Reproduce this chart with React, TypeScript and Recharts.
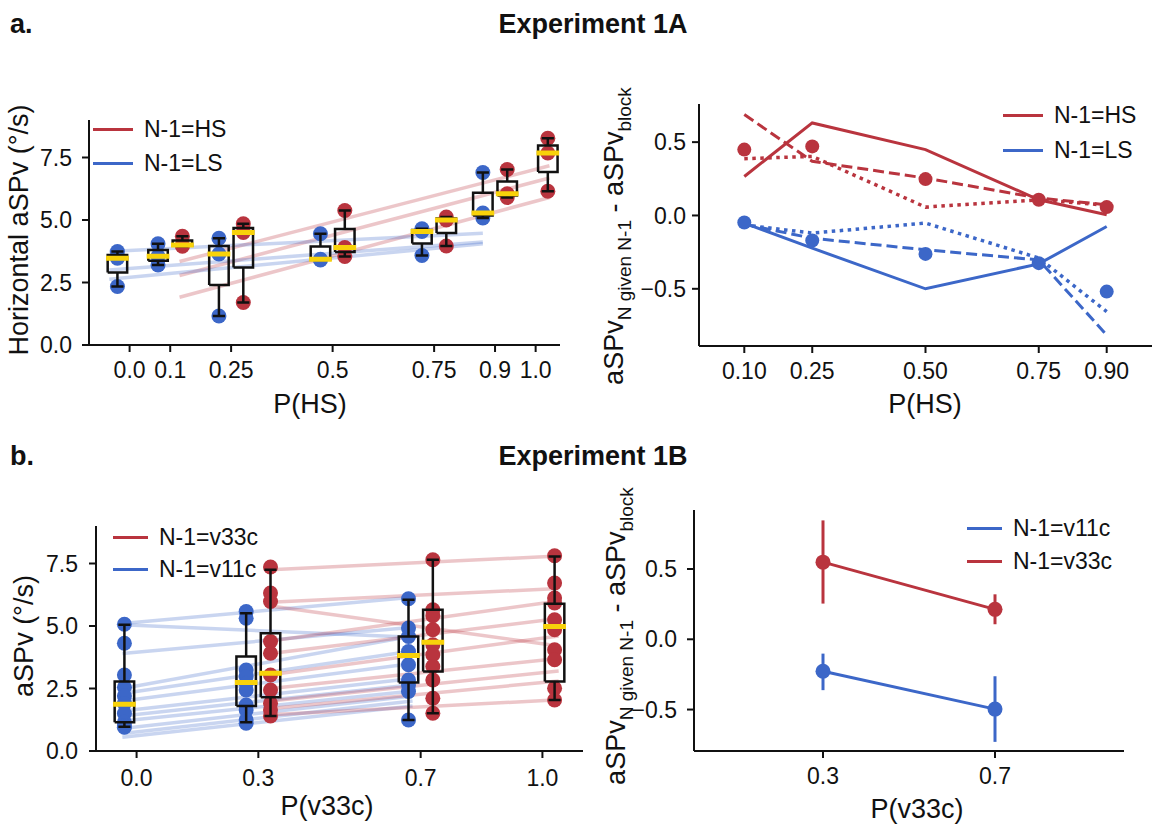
import React from "react";
import { ComposedChart, Line, Scatter, XAxis, YAxis, ErrorBar } from "recharts";

const RED = "#b9343e";
const BLUE = "#3c67c8";
const GOLD = "#f8d20a";
const INK = "#111";
const FONT = "'Liberation Sans', Arial, Helvetica, sans-serif";
const TICK_FONT = 23;
const TITLE_FONT = 27;
const SUB_FONT = 19;

// ---- Experiment 1A, left: aSPv per block, split by previous trial ----
const P_HS_TICKS = [0, 0.1, 0.25, 0.5, 0.75, 0.9, 1.0];
const P_HS_LABELS = ["0.0", "0.1", "0.25", "0.5", "0.75", "0.9", "1.0"];
const ASPV_TICKS = [0, 2.5, 5, 7.5];

const A_LS_BOXES = [
  { p: 0.0, lo: 2.34, q1: 2.9, med: 3.47, q3: 3.6, hi: 3.74 },
  { p: 0.1, lo: 3.2, q1: 3.37, med: 3.55, q3: 3.8, hi: 4.05 },
  { p: 0.25, lo: 1.16, q1: 2.4, med: 3.64, q3: 3.96, hi: 4.27 },
  { p: 0.5, lo: 3.4, q1: 3.42, med: 3.43, q3: 3.94, hi: 4.45 },
  { p: 0.75, lo: 3.58, q1: 4.06, med: 4.54, q3: 4.6, hi: 4.65 },
  { p: 0.9, lo: 5.08, q1: 5.18, med: 5.28, q3: 6.09, hi: 6.9 },
];
const A_LS_VALUES = [
  [3.74, 3.47, 2.34],
  [4.05, 3.55, 3.2],
  [4.27, 3.64, 1.16],
  [4.45, 3.43, 3.4],
  [4.65, 4.54, 3.58],
  [6.9, 5.28, 5.08],
];
const A_HS_BOXES = [
  { p: 0.1, lo: 3.95, q1: 3.98, med: 4.0, q3: 4.18, hi: 4.35 },
  { p: 0.25, lo: 1.7, q1: 3.1, med: 4.5, q3: 4.68, hi: 4.85 },
  { p: 0.5, lo: 3.54, q1: 3.72, med: 3.9, q3: 4.64, hi: 5.38 },
  { p: 0.75, lo: 3.96, q1: 4.48, med: 5.0, q3: 5.06, hi: 5.12 },
  { p: 0.9, lo: 5.9, q1: 5.98, med: 6.05, q3: 6.54, hi: 7.02 },
  { p: 1.0, lo: 6.15, q1: 6.92, med: 7.68, q3: 7.98, hi: 8.27 },
];
const A_HS_VALUES = [
  [4.35, 4.0, 3.95],
  [4.85, 4.5, 1.7],
  [5.38, 3.9, 3.54],
  [5.12, 5.0, 3.96],
  [7.02, 6.05, 5.9],
  [8.27, 7.68, 6.15],
];
// per-subject fits, [start, end] over the x range
const A_HS_FIT_X = [0.123, 1.034];
const A_HS_FITS = [
  [3.34, 7.17],
  [2.78, 6.68],
  [1.91, 5.9],
];
const A_LS_FIT_X = [-0.05, 0.87];
const A_LS_FITS = [
  [3.74, 4.47],
  [3.0, 4.12],
  [2.63, 4.05],
];

// ---- Experiment 1A, right: sequential effect per block ----
const P_A = [0.1, 0.25, 0.5, 0.75, 0.9];
const P_A_LABELS = ["0.10", "0.25", "0.50", "0.75", "0.90"];
const DIFF_TICKS = [-0.5, 0, 0.5];
const HS_SOLID = [0.266, 0.631, 0.449, 0.107, 0.005];
const HS_DASHED = [0.688, 0.369, 0.255, 0.119, 0.073];
const HS_DOTTED = [0.387, 0.403, 0.057, 0.107, 0.07];
const HS_MEAN = [0.449, 0.471, 0.248, 0.107, 0.057];
const LS_SOLID = [-0.052, -0.223, -0.5, -0.33, -0.075];
const LS_DASHED = [-0.06, -0.155, -0.234, -0.303, -0.815];
const LS_DOTTED = [-0.065, -0.12, -0.052, -0.29, -0.656];
const LS_MEAN = [-0.048, -0.171, -0.262, -0.325, -0.519];

// ---- Experiment 1B, left ----
const P_V33_TICKS = [0, 0.3, 0.7, 1.0];
const P_V33_LABELS = ["0.0", "0.3", "0.7", "1.0"];
const B_V11_BOXES = [
  { p: 0.0, lo: 0.97, q1: 1.15, med: 1.87, q3: 2.78, hi: 5.05 },
  { p: 0.3, lo: 1.15, q1: 1.8, med: 2.74, q3: 3.78, hi: 5.51 },
  { p: 0.7, lo: 1.24, q1: 2.74, med: 3.82, q3: 4.58, hi: 6.05 },
];
const B_V11_VALUES = [
  [5.07, 4.31, 3.04, 2.55, 2.2, 1.9, 1.5, 1.15, 1.0, 0.95],
  [5.58, 5.31, 3.24, 2.98, 2.71, 2.44, 1.84, 1.64, 1.24, 1.11],
  [6.09, 4.92, 4.58, 3.98, 3.45, 2.84, 2.64, 2.38, 1.24],
];
const B_V33_BOXES = [
  { p: 0.3, lo: 1.4, q1: 2.15, med: 3.11, q3: 4.71, hi: 7.25 },
  { p: 0.7, lo: 1.51, q1: 3.18, med: 4.35, q3: 5.65, hi: 7.65 },
  { p: 1.0, lo: 2.04, q1: 2.78, med: 4.98, q3: 5.89, hi: 7.78 },
];
const B_V33_VALUES = [
  [7.36, 6.32, 5.98, 4.38, 3.91, 3.04, 2.44, 1.91, 1.64, 1.4],
  [7.65, 5.65, 5.41, 4.85, 4.25, 3.85, 3.38, 2.84, 2.11, 1.51],
  [7.81, 6.72, 6.12, 5.92, 5.25, 4.85, 4.05, 3.65, 2.51, 2.04],
];
const B_V11_FIT_X = [-0.035, 0.68];
const B_V11_FITS = [
  [5.1, 6.15],
  [5.05, 4.55],
  [3.9, 4.95],
  [2.5, 4.6],
  [2.3, 4.0],
  [2.0, 3.5],
  [1.6, 2.9],
  [1.4, 2.65],
  [1.2, 2.4],
  [0.9, 2.2],
  [0.7, 2.0],
  [0.55, 1.8],
];
const B_V33_FIT_X = [0.33, 1.04];
const B_V33_FITS = [
  [7.25, 7.8],
  [5.95, 6.5],
  [5.8, 4.2],
  [4.4, 6.0],
  [3.9, 5.3],
  [3.05, 4.6],
  [2.5, 3.7],
  [2.0, 3.2],
  [1.7, 2.8],
  [1.45, 2.05],
];

// ---- Experiment 1B, right: mean difference with 95% CI ----
const P_B = [0.3, 0.7];
const P_B_LABELS = ["0.3", "0.7"];
const V33_MEAN = [0.549, 0.213];
const V33_LO = [0.254, 0.107];
const V33_HI = [0.846, 0.32];
const V11_MEAN = [-0.227, -0.497];
const V11_LO = [-0.362, -0.73];
const V11_HI = [-0.102, -0.263];

const BOX_SHIFT = 0.03;
const BOX_HALF = 0.024;
const CAP_HALF = 0.015;
const MED_HALF = 0.028;
const DOT_R = 7.5;

// draw order: subject fits < raw points < box outlines < medians
const Z_FIT = 300;
const Z_POINTS = 350;
const Z_BOX = 420;
const Z_MEDIAN = 430;

type Box = { p: number; lo: number; q1: number; med: number; q3: number; hi: number };
type Pt = { x: number; y: number };

const axisStyle = {
  axisLine: { stroke: INK, strokeWidth: 2 },
  tickLine: { stroke: INK, strokeWidth: 2 },
  tickSize: 7,
  tick: { fill: INK, fontSize: TICK_FONT },
  allowDataOverflow: true,
  interval: 0 as const,
};

const fmt1 = (v: number) => (v < 0 ? "\u2212" : "") + Math.abs(v).toFixed(1);
const pick = (ticks: number[], labels: string[]) => (v: number) => {
  const i = ticks.findIndex((t) => Math.abs(t - v) < 1e-9);
  return i >= 0 ? labels[i] : String(v);
};

const seg = (key: string, data: Pt[], stroke: string, width: number, extra: Record<string, unknown> = {}) => (
  <Line
    key={key}
    data={data}
    dataKey="y"
    type="linear"
    stroke={stroke}
    strokeWidth={width}
    dot={false}
    activeDot={false}
    isAnimationActive={false}
    {...extra}
  />
);

function boxplot(id: string, b: Box, shift: number) {
  const c = b.p + shift;
  const l = c - BOX_HALF;
  const r = c + BOX_HALF;
  const z = { zIndex: Z_BOX };
  return [
    seg(`${id}-wl`, [{ x: c, y: b.lo }, { x: c, y: b.q1 }], INK, 2.5, z),
    seg(`${id}-wh`, [{ x: c, y: b.q3 }, { x: c, y: b.hi }], INK, 2.5, z),
    seg(`${id}-cl`, [{ x: c - CAP_HALF, y: b.lo }, { x: c + CAP_HALF, y: b.lo }], INK, 2.5, z),
    seg(`${id}-ch`, [{ x: c - CAP_HALF, y: b.hi }, { x: c + CAP_HALF, y: b.hi }], INK, 2.5, z),
    seg(
      `${id}-box`,
      [
        { x: l, y: b.q1 },
        { x: r, y: b.q1 },
        { x: r, y: b.q3 },
        { x: l, y: b.q3 },
        { x: l, y: b.q1 },
      ],
      INK,
      2.5,
      z
    ),
    seg(`${id}-med`, [{ x: c - MED_HALF, y: b.med }, { x: c + MED_HALF, y: b.med }], GOLD, 5, { zIndex: Z_MEDIAN }),
  ];
}

const circle = (color: string, r: number) => (p: any) => <circle cx={p.cx} cy={p.cy} r={r} fill={color} />;

function points(id: string, data: Pt[], color: string, r: number, zIndex = Z_POINTS) {
  return (
    <Scatter key={id} data={data} fill={color} shape={circle(color, r)} isAnimationActive={false} zIndex={zIndex} />
  );
}

const fitLines = (id: string, xs: number[], fits: number[][], color: string) =>
  fits.map((f, i) =>
    seg(`${id}-${i}`, [{ x: xs[0], y: f[0] }, { x: xs[1], y: f[1] }], color, 3.5, {
      strokeOpacity: 0.28,
      zIndex: Z_FIT,
    })
  );

const boxPoints = (id: string, boxes: Box[], values: number[][], shift: number, color: string) =>
  points(
    id,
    boxes.flatMap((b, i) => values[i].map((y) => ({ x: b.p + shift, y }))),
    color,
    DOT_R
  );

const series = (xs: number[], ys: number[]) => xs.map((x, i) => ({ x, y: ys[i] }));
const withCI = (xs: number[], m: number[], lo: number[], hi: number[]) =>
  xs.map((x, i) => ({ x, y: m[i], err: [m[i] - lo[i], hi[i] - m[i]] }));

const xTitle = (text: string, x: number, y: number) => () => (
  <text x={x} y={y} textAnchor="middle" fontSize={TITLE_FONT} fill={INK}>
    {text}
  </text>
);
const yTitle = (content: React.ReactNode, x: number, y: number) => () => (
  <text transform={`translate(${x},${y}) rotate(-90)`} textAnchor="middle" fontSize={TITLE_FONT} fill={INK}>
    {content}
  </text>
);
const diffTitle = (
  <>
    aSPv
    <tspan dy={8} fontSize={SUB_FONT}>
      N given N-1
    </tspan>
    <tspan dy={-8}> - aSPv</tspan>
    <tspan dy={8} fontSize={SUB_FONT}>
      block
    </tspan>
  </>
);

type LegendItem = { label: string; color: string };
const A_LEGEND: LegendItem[] = [
  { label: "N-1=HS", color: RED },
  { label: "N-1=LS", color: BLUE },
];
const B_LEFT_LEGEND: LegendItem[] = [
  { label: "N-1=v33c", color: RED },
  { label: "N-1=v11c", color: BLUE },
];
const B_RIGHT_LEGEND: LegendItem[] = [
  { label: "N-1=v11c", color: BLUE },
  { label: "N-1=v33c", color: RED },
];

function LineLegend({ items, left, rows, swatch }: { items: LegendItem[]; left: number; rows: number[]; swatch: number }) {
  return (
    <>
      {items.map((it, i) => (
        <div
          key={it.label}
          style={{
            position: "absolute",
            left,
            top: rows[i] - 14,
            height: 28,
            display: "flex",
            alignItems: "center",
            fontSize: TICK_FONT,
            lineHeight: "28px",
            color: INK,
            whiteSpace: "nowrap",
          }}
        >
          <div style={{ width: swatch, height: 3, background: it.color, marginRight: 11 }} />
          <span>{it.label}</span>
        </div>
      ))}
    </>
  );
}

function Heading({ text, x, baseline, center }: { text: string; x: number; baseline: number; center?: boolean }) {
  return (
    <div
      style={{
        position: "absolute",
        left: x,
        top: baseline - 0.83 * TITLE_FONT,
        transform: center ? "translateX(-50%)" : undefined,
        fontSize: TITLE_FONT,
        fontWeight: 700,
        lineHeight: 1,
        color: INK,
        whiteSpace: "nowrap",
      }}
    >
      {text}
    </div>
  );
}

export default function App() {
  return (
    <div
      style={{
        position: "absolute",
        left: 0,
        top: 0,
        width: 1152,
        height: 826,
        background: "#fff",
        fontFamily: FONT,
        overflow: "hidden",
      }}
    >
      <Heading text="a." x={10} baseline={33} />
      <Heading text="Experiment 1A" x={593} baseline={33} center />
      <Heading text="b." x={10} baseline={465} />
      <Heading text="Experiment 1B" x={593} baseline={465} center />

      {/* 1A left */}
      <div style={{ position: "absolute", left: 0, top: 90 }}>
        <ComposedChart width={590} height={340} margin={{ top: 30, right: 30, bottom: 0, left: 0 }}>
          <XAxis
            type="number"
            dataKey="x"
            domain={[-0.1, 1.06]}
            ticks={P_HS_TICKS}
            tickFormatter={pick(P_HS_TICKS, P_HS_LABELS)}
            height={85}
            tickMargin={10}
            {...axisStyle}
            label={xTitle("P(HS)", 310, 323)}
          />
          <YAxis
            type="number"
            dataKey="y"
            domain={[0, 9]}
            ticks={ASPV_TICKS}
            tickFormatter={fmt1}
            width={89}
            tickMargin={10}
            {...axisStyle}
            label={yTitle("Horizontal aSPv (°/s)", 28, 140)}
          />
          {fitLines("ahs", A_HS_FIT_X, A_HS_FITS, RED)}
          {fitLines("als", A_LS_FIT_X, A_LS_FITS, BLUE)}
          {boxPoints("dls", A_LS_BOXES, A_LS_VALUES, -BOX_SHIFT, BLUE)}
          {boxPoints("dhs", A_HS_BOXES, A_HS_VALUES, BOX_SHIFT, RED)}
          {A_LS_BOXES.map((b, i) => boxplot(`bls${i}`, b, -BOX_SHIFT))}
          {A_HS_BOXES.map((b, i) => boxplot(`bhs${i}`, b, BOX_SHIFT))}
        </ComposedChart>
      </div>
      <LineLegend items={A_LEGEND} left={93} rows={[129, 163]} swatch={40} />

      {/* 1A right */}
      <div style={{ position: "absolute", left: 600, top: 74 }}>
        <ComposedChart width={552} height={352} margin={{ top: 30, right: 0, bottom: 0, left: 0 }}>
          <XAxis
            type="number"
            dataKey="x"
            domain={[0, 1]}
            ticks={P_A}
            tickFormatter={pick(P_A, P_A_LABELS)}
            height={80}
            tickMargin={10}
            {...axisStyle}
            label={xTitle("P(HS)", 325, 339)}
          />
          <YAxis
            type="number"
            dataKey="y"
            domain={[-0.89, 0.76]}
            ticks={DIFF_TICKS}
            tickFormatter={fmt1}
            width={99}
            tickMargin={6}
            {...axisStyle}
            label={yTitle(diffTitle, 23, 162)}
          />
          {seg("hs-solid", series(P_A, HS_SOLID), RED, 3)}
          {seg("hs-dash", series(P_A, HS_DASHED), RED, 3, { strokeDasharray: "11 5" })}
          {seg("hs-dot", series(P_A, HS_DOTTED), RED, 3.5, { strokeDasharray: "3.5 4.5" })}
          {seg("ls-solid", series(P_A, LS_SOLID), BLUE, 3)}
          {seg("ls-dash", series(P_A, LS_DASHED), BLUE, 3, { strokeDasharray: "11 5" })}
          {seg("ls-dot", series(P_A, LS_DOTTED), BLUE, 3.5, { strokeDasharray: "3.5 4.5" })}
          {points("hs-mean", series(P_A, HS_MEAN), RED, 7, 600)}
          {points("ls-mean", series(P_A, LS_MEAN), BLUE, 7, 600)}
        </ComposedChart>
      </div>
      <LineLegend items={A_LEGEND} left={1003} rows={[115, 150]} swatch={40} />

      {/* 1B left */}
      <div style={{ position: "absolute", left: 0, top: 496 }}>
        <ComposedChart width={600} height={330} margin={{ top: 30, right: 17, bottom: 0, left: 0 }}>
          <XAxis
            type="number"
            dataKey="x"
            domain={[-0.1, 1.1]}
            ticks={P_V33_TICKS}
            tickFormatter={pick(P_V33_TICKS, P_V33_LABELS)}
            height={75}
            tickMargin={12}
            {...axisStyle}
            label={xTitle("P(v33c)", 327, 319)}
          />
          <YAxis
            type="number"
            dataKey="y"
            domain={[0, 9]}
            ticks={ASPV_TICKS}
            tickFormatter={fmt1}
            width={96}
            tickMargin={11}
            {...axisStyle}
            label={yTitle("aSPv (°/s)", 33, 140)}
          />
          {fitLines("bv11", B_V11_FIT_X, B_V11_FITS, BLUE)}
          {fitLines("bv33", B_V33_FIT_X, B_V33_FITS, RED)}
          {boxPoints("dv11", B_V11_BOXES, B_V11_VALUES, -BOX_SHIFT, BLUE)}
          {boxPoints("dv33", B_V33_BOXES, B_V33_VALUES, BOX_SHIFT, RED)}
          {B_V11_BOXES.map((b, i) => boxplot(`bv11${i}`, b, -BOX_SHIFT))}
          {B_V33_BOXES.map((b, i) => boxplot(`bv33${i}`, b, BOX_SHIFT))}
        </ComposedChart>
      </div>
      <LineLegend items={B_LEFT_LEGEND} left={113} rows={[537, 569]} swatch={35} />

      {/* 1B right */}
      <div style={{ position: "absolute", left: 600, top: 480 }}>
        <ComposedChart width={552} height={346} margin={{ top: 30, right: 28, bottom: 0, left: 0 }}>
          <XAxis
            type="number"
            dataKey="x"
            domain={[0, 1]}
            ticks={P_B}
            tickFormatter={pick(P_B, P_B_LABELS)}
            height={75}
            tickMargin={10}
            {...axisStyle}
            label={xTitle("P(v33c)", 317, 338)}
          />
          <YAxis
            type="number"
            dataKey="y"
            domain={[-0.795, 0.92]}
            ticks={DIFF_TICKS}
            tickFormatter={fmt1}
            width={94}
            tickMargin={10}
            {...axisStyle}
            label={yTitle(diffTitle, 25, 156)}
          />
          <Line
            data={withCI(P_B, V33_MEAN, V33_LO, V33_HI)}
            dataKey="y"
            stroke={RED}
            strokeWidth={3}
            dot={{ r: 7.5, fill: RED, stroke: RED, strokeWidth: 0 }}
            activeDot={false}
            isAnimationActive={false}
          >
            <ErrorBar dataKey="err" direction="y" width={0} stroke={RED} strokeWidth={3} isAnimationActive={false} />
          </Line>
          <Line
            data={withCI(P_B, V11_MEAN, V11_LO, V11_HI)}
            dataKey="y"
            stroke={BLUE}
            strokeWidth={3}
            dot={{ r: 7.5, fill: BLUE, stroke: BLUE, strokeWidth: 0 }}
            activeDot={false}
            isAnimationActive={false}
          >
            <ErrorBar dataKey="err" direction="y" width={0} stroke={BLUE} strokeWidth={3} isAnimationActive={false} />
          </Line>
        </ComposedChart>
      </div>
      <LineLegend items={B_RIGHT_LEGEND} left={967} rows={[528, 561]} swatch={35} />
    </div>
  );
}
